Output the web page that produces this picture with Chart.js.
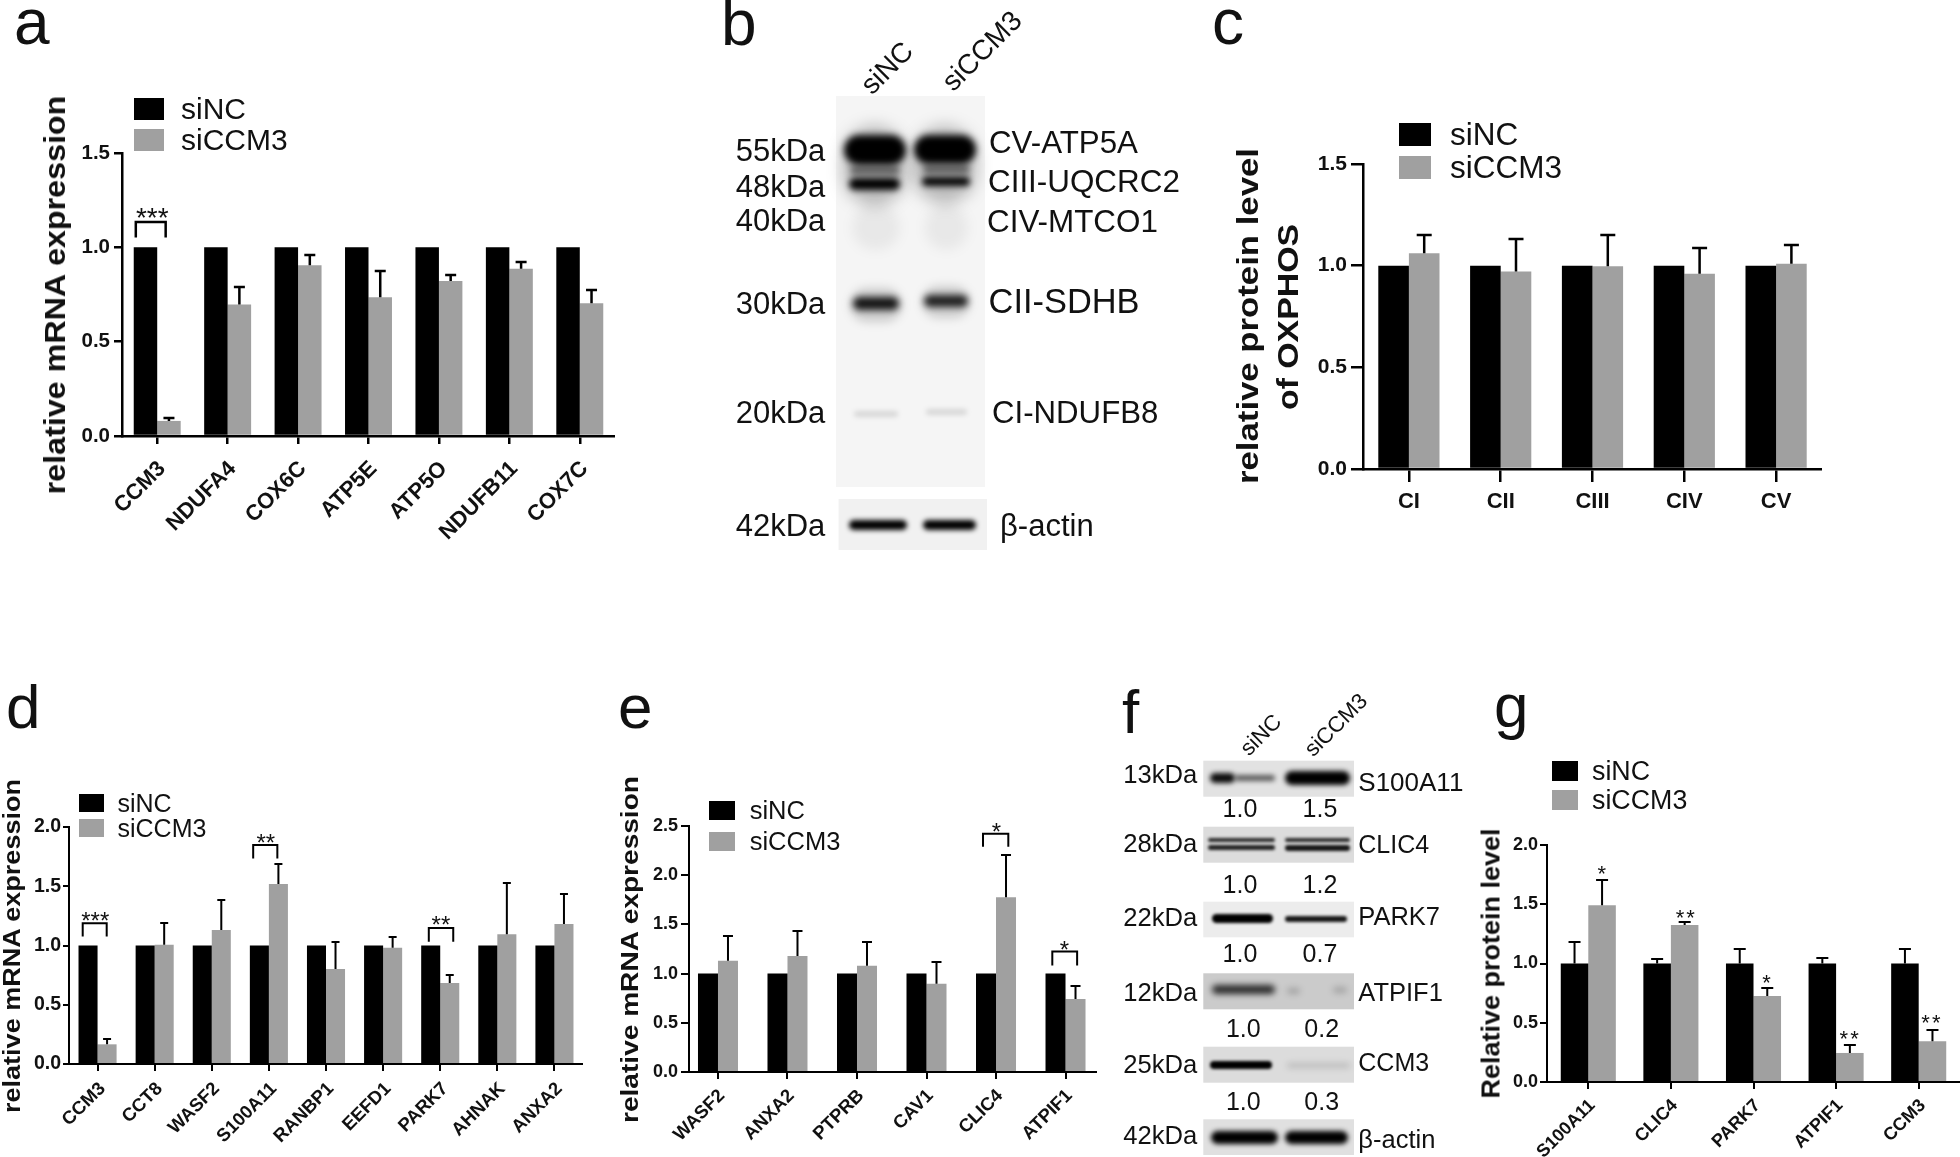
<!DOCTYPE html>
<html>
<head>
<meta charset="utf-8">
<script src="https://cdn.jsdelivr.net/npm/chart.js@4"></script>
<style>
    html, body { margin: 0; padding: 0; background: #fff; }
    #page { position: absolute; left: 0; top: 0; width: 1960px; height: 1157px; overflow: hidden; background: #fff; }
    #page canvas { position: absolute; }
    .t { position: absolute; white-space: nowrap; line-height: 1; color: #111; font-family: "Liberation Sans", Arial, sans-serif; }
    .box { position: absolute; }
</style>
</head>
<body>
<div id="page"><canvas id="blots" width="1960" height="1157" style="left:0;top:0"></canvas></div>
<script>
const seriesNames = ["siNC", "siCCM3"];

// a
const aCats = ["CCM3", "NDUFA4", "COX6C", "ATP5E", "ATP5O", "NDUFB11", "COX7C"];
const aNC = [1, 1, 1, 1, 1, 1, 1];
const aCCM3 = [0.08, 0.697, 0.905, 0.735, 0.822, 0.886, 0.703];
const aCCM3Top = [0.098, 0.788, 0.958, 0.877, 0.852, 0.922, 0.773];
const aTicks = [0, 0.5, 1, 1.5];

// c
const cCats = ["CI", "CII", "CIII", "CIV", "CV"];
const cNC = [1, 1, 1, 1, 1];
const cCCM3 = [1.061, 0.971, 0.997, 0.96, 1.009];
const cCCM3Top = [1.152, 1.131, 1.15, 1.087, 1.104];
const cTicks = [0, 0.5, 1, 1.5];

// d
const dCats = ["CCM3", "CCT8", "WASF2", "S100A11", "RANBP1", "EEFD1", "PARK7", "AHNAK", "ANXA2"];
const dNC = [1, 1, 1, 1, 1, 1, 1, 1, 1];
const dCCM3 = [0.166, 1.007, 1.131, 1.519, 0.802, 0.982, 0.684, 1.094, 1.181];
const dCCM3Top = [0.208, 1.193, 1.384, 1.688, 1.027, 1.072, 0.751, 1.527, 1.435];
const dTicks = [0, 0.5, 1, 1.5, 2];

// e
const eCats = ["WASF2", "ANXA2", "PTPRB", "CAV1", "CLIC4", "ATPIF1"];
const eNC = [1, 1, 1, 1, 1, 1];
const eCCM3 = [1.13, 1.18, 1.079, 0.896, 1.776, 0.741];
const eCCM3Top = [1.384, 1.434, 1.323, 1.113, 2.209, 0.876];
const eTicks = [0, 0.5, 1, 1.5, 2, 2.5];

// g
const gCats = ["S100A11", "CLIC4", "PARK7", "ATPIF1", "CCM3"];
const gNC = [1, 1, 1, 1, 1];
const gNCTop = [1.184, 1.038, 1.12, 1.046, 1.12];
const gCCM3 = [1.491, 1.325, 0.726, 0.245, 0.343];
const gCCM3Top = [1.707, 1.35, 0.793, 0.309, 0.442];
const gTicks = [0, 0.5, 1, 1.5, 2];

// significance marks: cat, text, star x/y, bracket from/to/top/foot (data units)
const aSig = [{ c: 0, s: "***", sx: -0.07, sy: 1.195, from: -0.304, to: 0.12, top: 1.134, foot: 1.052 }];
const dSig = [
    { c: 0, s: "***", sx: -0.04, sy: 1.257, from: -0.26, to: 0.16, top: 1.187, foot: 1.075 },
    { c: 3, s: "**", sx: -0.054, sy: 1.918, from: -0.275, to: 0.148, top: 1.848, foot: 1.735 },
    { c: 6, s: "**", sx: 0.013, sy: 1.22, from: -0.2, to: 0.228, top: 1.148, foot: 1.032 }
];
const eSig = [
    { c: 4, s: "*", sx: 0.005, sy: 2.5, from: -0.187, to: 0.177, top: 2.422, foot: 2.29 },
    { c: 5, s: "*", sx: -0.014, sy: 1.3, from: -0.19, to: 0.167, top: 1.225, foot: 1.083 }
];
const gSig = [
    { c: 0, s: "*", sx: 0.174, sy: 1.8 },
    { c: 1, s: "**", sx: 0.186, sy: 1.43 },
    { c: 2, s: "*", sx: 0.17, sy: 0.886 },
    { c: 3, s: "**", sx: 0.17, sy: 0.408 },
    { c: 4, s: "**", sx: 0.16, sy: 0.543 }
];

// blot text
const bKda = ["55kDa", "48kDa", "40kDa", "30kDa", "20kDa", "42kDa"];
const bProteins = ["CV-ATP5A", "CIII-UQCRC2", "CIV-MTCO1", "CII-SDHB", "CI-NDUFB8", "β-actin"];
const fKda = ["13kDa", "28kDa", "22kDa", "12kDa", "25kDa", "42kDa"];
const fProteins = ["S100A11", "CLIC4", "PARK7", "ATPIF1", "CCM3", "β-actin"];
const fRatioNC = ["1.0", "1.0", "1.0", "1.0", "1.0"];
const fRatioCCM3 = ["1.5", "1.2", "0.7", "0.2", "0.3"];

const FONT = '"Liberation Sans", Arial, sans-serif';
const GREY = "#a0a0a0";
const page = document.getElementById("page");

// text helper, y is the baseline
function txt(s, x, y, size, opts = {}) {
    const el = document.createElement("div");
    el.className = "t";
    el.textContent = s;
    el.style.fontSize = size + "px";
    el.style.left = x + "px";
    el.style.top = (y - 0.8465 * size) + "px";
    if (opts.bold) el.style.fontWeight = "bold";
    if (opts.center) el.style.transform = "translateX(-50%)";
    page.appendChild(el);
    return el;
}

// rotated around its centre
function rotTxt(s, cx, cy, size, deg, opts = {}) {
    const el = txt(s, cx, cy, size, opts);
    el.style.top = cy + "px";
    el.style.marginTop = -size / 2 + "px";
    el.style.transform = `translateX(-50%) rotate(${deg}deg) scaleX(${opts.sx || 1})`;
    return el;
}

// axis title stretched to the length it has in the figure
function axisTitle(s, baseX, cy, size, len, bold) {
    const c = document.createElement("canvas").getContext("2d");
    c.font = `${bold ? "bold " : ""}${size}px ${FONT}`;
    const sx = len / c.measureText(s).width;
    rotTxt(s, baseX - 0.3465 * size, cy, size, -90, { bold, sx });
}

function legend(x, w, y1, y2, h, textX, size) {
    [y1, y2].forEach((y, i) => {
        const b = document.createElement("div");
        b.className = "box";
        b.style.cssText = `left:${x}px;top:${y}px;width:${w}px;height:${h}px;background:${i ? GREY : "#000"}`;
        page.appendChild(b);
        txt(seriesNames[i], textX, y + h / 2 + 0.36 * size, size);
    });
}

// error bars, brackets and stars
const marksPlugin = {
    id: "marks",
    afterDatasetsDraw(chart, args, o) {
        const { ctx, scales: { x, y } } = chart;
        ctx.save();
        ctx.strokeStyle = "#000";
        ctx.fillStyle = "#111";
        ctx.lineWidth = o.lw;
        o.tops.forEach((tops, ds) => {
            if (!tops) return;
            chart.getDatasetMeta(ds).data.forEach((bar, i) => {
                const yt = Math.round(y.getPixelForValue(tops[i]));
                ctx.beginPath();
                ctx.moveTo(bar.x, bar.y);
                ctx.lineTo(bar.x, yt);
                ctx.moveTo(bar.x - o.cap / 2, yt);
                ctx.lineTo(bar.x + o.cap / 2, yt);
                ctx.stroke();
            });
        });
        ctx.font = `${o.starSize}px ${FONT}`;
        ctx.textAlign = "center";
        ctx.textBaseline = "middle";
        if (o.starGap) ctx.letterSpacing = o.starGap + "px";
        o.sig.forEach(m => {
            ctx.fillText(m.s, x.getPixelForValue(m.c + m.sx), y.getPixelForValue(m.sy) + 0.3 * o.starSize);
            if (m.top === undefined) return;
            const x1 = x.getPixelForValue(m.c + m.from), x2 = x.getPixelForValue(m.c + m.to);
            const yt = y.getPixelForValue(m.top), yf = y.getPixelForValue(m.foot);
            ctx.beginPath();
            ctx.moveTo(x1, yf);
            ctx.lineTo(x1, yt);
            ctx.lineTo(x2, yt);
            ctx.lineTo(x2, yf);
            ctx.stroke();
        });
        ctx.restore();
    }
};

function panel(p) {
    const yW = 62, xH = 120, pad = 30;
    const lw = p.lw || 2;
    const left = p.l - yW, top = p.t - pad;
    const width = p.r - left, height = p.b + xH - top;
    const cv = document.createElement("canvas");
    cv.width = width;
    cv.height = height;
    cv.style.left = left + "px";
    cv.style.top = top + "px";
    page.appendChild(cv);

    const toXY = vals => vals.map((v, i) => ({ x: i, y: v }));

    new Chart(cv, {
        type: "bar",
        plugins: [marksPlugin],
        data: {
            datasets: [
                { label: seriesNames[0], data: toXY(p.nc), backgroundColor: "#000", borderWidth: 0 },
                { label: seriesNames[1], data: toXY(p.ccm3), backgroundColor: GREY, borderWidth: 0 }
            ]
        },
        options: {
            responsive: false,
            animation: false,
            events: [],
            layout: { padding: { left: 0, top: pad, right: 0, bottom: 0 } },
            datasets: { bar: { categoryPercentage: p.catPct || 2 / 3, barPercentage: 1 } },
            plugins: {
                legend: { display: false },
                tooltip: { enabled: false },
                marks: { tops: p.tops, sig: p.sig || [], lw, cap: p.cap, starSize: p.starSize, starGap: p.starGap }
            },
            scales: {
                x: {
                    type: "linear",
                    offset: false,
                    min: p.xMin === undefined ? -0.5 : p.xMin,
                    max: p.xMax === undefined ? p.cats.length - 0.5 : p.xMax,
                    afterFit: s => { s.height = xH; },
                    afterBuildTicks: s => { s.ticks = p.cats.map((c, i) => ({ value: i })); },
                    border: { color: "#000", width: lw },
                    grid: { offset: false, drawOnChartArea: false, color: "#000", lineWidth: lw, tickLength: p.xTick },
                    ticks: {
                        stepSize: 1,
                        autoSkip: false,
                        minRotation: p.rot,
                        maxRotation: p.rot,
                        padding: p.xPad,
                        labelOffset: p.xOff || 0,
                        color: "#111",
                        font: { family: FONT, weight: "bold", size: p.xSize },
                        callback: v => p.cats[v]
                    }
                },
                y: {
                    min: 0,
                    max: p.ticks[p.ticks.length - 1],
                    afterFit: s => { s.width = yW; },
                    afterBuildTicks: s => { s.ticks = p.ticks.map(v => ({ value: v })); },
                    border: { color: "#000", width: lw },
                    grid: { drawOnChartArea: false, color: "#000", lineWidth: lw, tickLength: p.yTick },
                    ticks: {
                        padding: p.yPad,
                        color: "#111",
                        font: { family: FONT, weight: "bold", size: p.ySize },
                        callback: v => v.toFixed(1)
                    }
                }
            }
        }
    });
}

panel({ l: 122, r: 615, t: 152.9, b: 436.4, cats: aCats, nc: aNC, ccm3: aCCM3, tops: [null, aCCM3Top], ticks: aTicks, lw: 2.5,
    sig: aSig, cap: 11, starSize: 28, rot: 45, xTick: 8, xPad: 12, xOff: 5, xSize: 22, yTick: 8, yPad: 4, ySize: 20.5 });
panel({ l: 1363, r: 1822, t: 163.6, b: 469, cats: cCats, nc: cNC, ccm3: cCCM3, tops: [null, cCCM3Top], ticks: cTicks, lw: 2.5,
    cap: 15, starSize: 24, rot: 0, xTick: 13, xPad: 7, xSize: 22, yTick: 12, yPad: 4, ySize: 21 });
panel({ l: 68.5, r: 582.5, t: 827, b: 1064, cats: dCats, nc: dNC, ccm3: dCCM3, tops: [null, dCCM3Top], ticks: dTicks,
    sig: dSig, cap: 8, starSize: 24, rot: 45, xTick: 7, xPad: 7, xOff: 5, xSize: 18.5, yTick: 6, yPad: 2, ySize: 19.5 });
panel({ l: 688.7, r: 1096.7, t: 826, b: 1072.3, cats: eCats, nc: eNC, ccm3: eCCM3, tops: [null, eCCM3Top], ticks: eTicks,
    xMin: -0.417, xMax: 5.453, catPct: 0.5755,
    sig: eSig, cap: 10, starSize: 24, rot: 45, xTick: 7, xPad: 6, xOff: 4, xSize: 18.5, yTick: 8, yPad: 3, ySize: 18 });
panel({ l: 1547, r: 1960, t: 844.7, b: 1081.7, cats: gCats, nc: gNC, ccm3: gCCM3, tops: [gNCTop, gCCM3Top], ticks: gTicks,
    sig: gSig, cap: 12, starSize: 22, starGap: 2, rot: 45, xTick: 7, xPad: 6, xOff: 4, xSize: 18, yTick: 7, yPad: 2, ySize: 18 });

// axis titles
axisTitle("relative mRNA expression", 65.6, 294.6, 30, 400, true);
axisTitle("relative protein level", 1258, 316, 30, 336, true);
axisTitle("of OXPHOS", 1298, 317, 30, 186, true);
axisTitle("relative mRNA expression", 20, 945.8, 24, 335, true);
axisTitle("relative mRNA expression", 637.7, 949, 23, 348, true);
axisTitle("Relative protein level", 1500, 963, 25, 270, true);

// legends
legend(134, 30, 97.5, 128.6, 22, 181, 30);
legend(1399, 32.4, 123, 155.6, 23.4, 1450, 31.5);
legend(78.5, 25, 794.3, 819, 18, 117.5, 25);
legend(708.7, 26, 801, 832, 19, 749.7, 25.5);
legend(1552, 25.7, 761, 790, 19.5, 1592, 26.8);

// panel letters
[["a", 14, 44.6, 64], ["b", 721, 45, 64], ["c", 1212, 44, 64], ["d", 6, 728.3, 62], ["e", 618, 728, 62], ["f", 1122, 733, 62], ["g", 1494, 727, 62]]
    .forEach(l => txt(l[0], l[1], l[2], l[3]));

// b labels
const bKdaY = [150, 186, 220.7, 303.6, 412.5, 525];
bKda.forEach((s, i) => txt(s, 735.7, bKdaY[i] + 11, 31));
const bProtX = [989, 988, 987, 988.6, 992, 1000];
const bProtY = [142, 181.4, 222, 301.8, 412.5, 525];
const bProtSize = [31.3, 31.4, 31.4, 34.4, 31.2, 31];
bProteins.forEach((s, i) => txt(s, bProtX[i], bProtY[i] + 11, bProtSize[i]));
rotTxt("siNC", 887, 68, 28, -45);
rotTxt("siCCM3", 982, 51, 28, -45);

// f labels
const fKdaY = [774.7, 844, 918, 992.7, 1065, 1136];
fKda.forEach((s, i) => txt(s, 1123.3, fKdaY[i] + 9, 25.6));
const fProtY = [781.7, 844, 917, 992.7, 1062, 1140];
const fProtSize = [26, 25, 25.5, 25.5, 25, 25.5];
fProteins.forEach((s, i) => txt(s, 1358.3, fProtY[i] + 9, fProtSize[i]));
const fRatioY = [808.3, 884, 953.3, 1028.3, 1100.7];
fRatioNC.forEach((s, i) => txt(s, i > 2 ? 1243.3 : 1240, fRatioY[i] + 9, 25, { center: true }));
fRatioCCM3.forEach((s, i) => txt(s, i > 2 ? 1321.7 : 1320, fRatioY[i] + 9, 25, { center: true }));
rotTxt("siNC", 1261, 735, 22, -45);
rotTxt("siCCM3", 1336, 725, 22, -45);

// blots, only pictures here: strip [x, y, w, h, grey], band [x0, y0, x1, y1, alpha, blur]
const blotStrips = [
    [836, 96, 149, 391, "#f5f5f5"], [838.6, 499, 148.4, 51, "#f1f1f1"],
    [1203.3, 760.7, 150.7, 36, "#e2e2e2"], [1203.3, 826.7, 150.7, 36, "#dcdcdc"], [1203.3, 901.7, 150.7, 35.6, "#ececec"],
    [1203.3, 973.3, 150.7, 36, "#cbcbcb"], [1203.3, 1046.7, 150.7, 36, "#dcdcdc"], [1203.3, 1119.3, 150.7, 35.7, "#e0e0e0"]
];
const blotBands = [
    // b
    [843, 126, 906, 205, 0.25, 8], [913, 126, 976, 203, 0.25, 8],
    [844, 135, 906, 165, 1, 3.5], [914, 135, 976, 164, 1, 3.5],
    [850, 166, 900, 175, 0.45, 3], [923, 165, 970, 174, 0.45, 3],
    [849, 178, 900, 190, 1, 3], [922, 177, 970, 186, 1, 3],
    [852, 205, 900, 250, 0.05, 6], [925, 205, 968, 250, 0.05, 6],
    [850, 288, 902, 322, 0.16, 5], [922, 286, 970, 318, 0.16, 5],
    [853, 297, 899, 310, 0.9, 3.5], [924, 295, 968, 307, 0.85, 3.5],
    [854, 411, 898, 417, 0.12, 2.5], [926, 409, 967, 415, 0.12, 2.5],
    [849, 520, 907, 530, 1, 2.5], [923, 520, 976, 530, 1, 2.5],
    // f S100A11
    [1210, 773, 1235, 783, 0.95, 2.5], [1235, 775, 1275, 781, 0.6, 2.5], [1285, 771, 1350, 785, 1, 2.5],
    // f CLIC4
    [1208, 838, 1275, 842, 0.8, 1.5], [1208, 845, 1275, 850, 0.85, 1.5], [1285, 838, 1350, 842, 0.8, 1.5], [1285, 845, 1350, 851, 0.9, 1.5],
    // f PARK7
    [1212, 914, 1273, 923, 1, 1.8], [1285, 916, 1347, 922, 0.9, 1.8],
    // f ATPIF1
    [1212, 985, 1275, 994, 0.8, 3], [1287, 988, 1300, 994, 0.2, 3], [1333, 987, 1347, 993, 0.2, 3],
    // f CCM3
    [1210, 1061, 1272, 1069, 1, 1.8], [1287, 1063, 1350, 1068, 0.15, 3],
    // f actin
    [1211, 1131, 1278, 1144, 1, 2.5], [1285, 1131, 1348, 1144, 1, 2.5]
];
const bctx = document.getElementById("blots").getContext("2d");
blotStrips.forEach(s => { bctx.fillStyle = s[4]; bctx.fillRect(s[0], s[1], s[2], s[3]); });
blotBands.forEach(b => {
    bctx.save();
    bctx.filter = `blur(${b[5]}px)`;
    bctx.fillStyle = `rgba(0,0,0,${b[4]})`;
    bctx.beginPath();
    bctx.roundRect(b[0], b[1], b[2] - b[0], b[3] - b[1], (b[3] - b[1]) / 2);
    bctx.fill();
    bctx.restore();
});
</script>
</body>
</html>
